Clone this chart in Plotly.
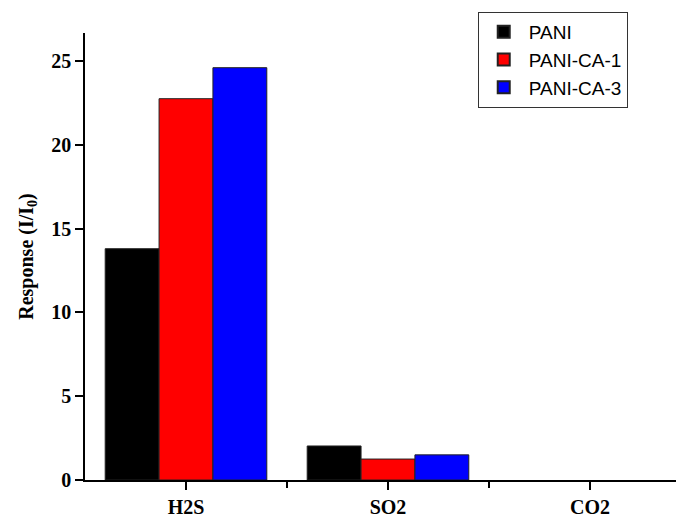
import plotly.graph_objects as go

categories = ["H2S", "SO2", "CO2"]
pani = [13.8, 2.03, 0.0]
pani_ca1 = [22.75, 1.25, 0.0]
pani_ca3 = [24.6, 1.5, 0.0]
series_names = ["PANI", "PANI-CA-1", "PANI-CA-3"]
series_colors = ["#000000", "#ff0000", "#0000ff"]
y_ticks = [0, 5, 10, 15, 20, 25]

x_pos = list(range(len(categories)))

fig = go.Figure()
for name, vals, col in zip(series_names, [pani, pani_ca1, pani_ca3], series_colors):
    fig.add_trace(go.Bar(
        x=x_pos, y=vals, name=name,
        marker=dict(color=col, line=dict(color="#222222", width=[1 if v > 0 else 0 for v in vals])),
    ))

serif = "Liberation Serif, Times New Roman, serif"
fig.update_layout(
    width=684, height=515,
    margin=dict(l=77, r=0, t=25, b=43, autoexpand=False),
    paper_bgcolor="white", plot_bgcolor="white",
    barmode="group", bargap=0.2, bargroupgap=0,
    showlegend=True,
    legend=dict(
        x=0.647, y=1.047, xanchor="left", yanchor="top",
        bordercolor="#333333", borderwidth=1,
        font=dict(family="Liberation Sans, Arial, sans-serif", size=19, color="black"),
        tracegroupgap=0, itemsizing="constant", itemwidth=40,
    ),
    xaxis=dict(
        range=[-0.5, 2.505],
        tickmode="array", tickvals=x_pos, ticktext=categories,
        ticks="outside", ticklen=8, tickwidth=1.5, tickcolor="black",
        showline=True, linecolor="black", linewidth=1.5,
        showgrid=False, zeroline=False, automargin=False,
        minor=dict(tickvals=[0.5, 1.5], ticks="outside", ticklen=6, tickwidth=1.5, tickcolor="black", showgrid=False),
        tickfont=dict(family=serif, size=20, color="black", weight="bold"),
    ),
    yaxis=dict(
        range=[0, 26.67],
        tickmode="array", tickvals=y_ticks,
        ticks="outside", ticklen=8, tickwidth=1.5, tickcolor="black",
        showline=True, linecolor="black", linewidth=1.5,
        showgrid=False, zeroline=False, automargin=False,
        tickfont=dict(family=serif, size=20, color="black", weight="bold"),
        title=dict(text="Response (I/I<sub>0</sub>)", standoff=12,
                   font=dict(family=serif, size=20, color="black", weight="bold")),
    ),
)

fig.write_html("out.html")
